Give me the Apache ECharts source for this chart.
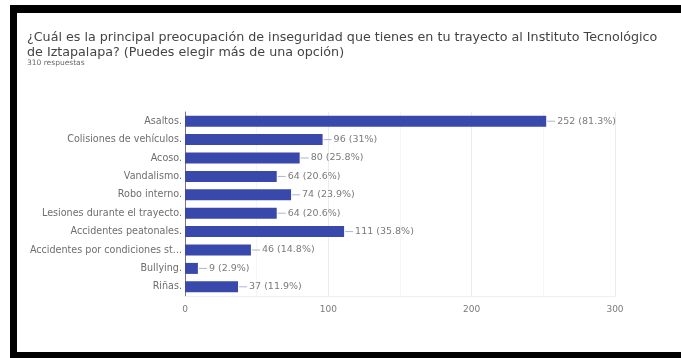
<!DOCTYPE html>
<html>
<head>
<meta charset="utf-8">
<script src="https://cdn.jsdelivr.net/npm/echarts@6/dist/echarts.min.js"></script>
<style>
  html, body { margin: 0; padding: 0; background: #fff; }
  #chart { width: 681px; height: 358px; }
</style>
</head>
<body>
<div id="chart"></div>
<script>
// Survey answers: main safety concern on the way to the institute
const totalResponses = 310;
const categories = [
  'Asaltos.',
  'Colisiones de vehículos.',
  'Acoso.',
  'Vandalismo.',
  'Robo interno.',
  'Lesiones durante el trayecto.',
  'Accidentes peatonales.',
  'Accidentes por condiciones st...',
  'Bullying.',
  'Riñas.'
];
const counts = [252, 96, 80, 64, 74, 64, 111, 46, 9, 37];
const axisTicks = [0, 100, 200, 300];

const FONT = '"DejaVu Sans", Roboto, sans-serif';

function pct(v) {
  const p = (v / totalResponses * 100).toFixed(1);
  return (p.endsWith('.0') ? p.slice(0, -2) : p) + '%';
}

const chart = echarts.init(document.getElementById('chart'), null, { renderer: 'canvas' });

chart.setOption({
  backgroundColor: '#ffffff',
  animation: false,
  textStyle: { fontFamily: FONT },
  title: [
    {
      text: '¿Cuál es la principal preocupación de inseguridad que tienes en tu trayecto al Instituto Tecnológico\nde Iztapalapa? (Puedes elegir más de una opción)',
      left: 27,
      top: 30,
      padding: 0,
      textStyle: {
        fontFamily: FONT,
        fontSize: 12.7,
        fontWeight: 'normal',
        color: '#444444',
        lineHeight: 15
      }
    },
    {
      text: totalResponses + ' respuestas',
      left: 27,
      top: 59,
      padding: 0,
      textStyle: {
        fontFamily: FONT,
        fontSize: 7.5,
        fontWeight: 'normal',
        color: '#6a6a6a',
        lineHeight: 8
      }
    }
  ],
  grid: { left: 185, right: 66, top: 112, bottom: 62, containLabel: false },
  xAxis: {
    type: 'value',
    min: axisTicks[0],
    max: axisTicks[axisTicks.length - 1],
    interval: 100,
    axisLine: { show: true, lineStyle: { color: '#eeeeee' } },
    axisTick: { show: false },
    axisLabel: { color: '#7a7a7a', fontSize: 9, margin: 9, fontFamily: FONT },
    splitLine: { show: true, lineStyle: { color: '#ececec' } },
    minorTick: { show: false, splitNumber: 2 },
    minorSplitLine: { show: true, lineStyle: { color: '#f5f5f5' } }
  },
  yAxis: {
    type: 'category',
    inverse: true,
    data: categories,
    axisLine: { show: true, lineStyle: { color: '#777777' } },
    axisTick: { show: false },
    axisLabel: { color: '#6e6e6e', fontSize: 9.6, margin: 3, fontFamily: FONT }
  },
  series: [{
    type: 'bar',
    data: counts,
    barWidth: 11,
    itemStyle: { color: '#3949ab' },
    label: {
      show: true,
      position: 'right',
      distance: 1,
      formatter: p => '{ln|}{t|' + p.value + ' (' + pct(p.value) + ')}',
      rich: {
        ln: { width: 8, height: 1, backgroundColor: '#aab4d6' },
        t: { color: '#7a7a7a', fontSize: 9.5, fontFamily: FONT, padding: [0, 0, 0, 2] }
      }
    }
  }],
  graphic: [
    { type: 'rect', shape: { x: 10, y: 5, width: 671, height: 8 }, style: { fill: '#000' } },
    { type: 'rect', shape: { x: 10, y: 5, width: 7, height: 353 }, style: { fill: '#000' } },
    { type: 'rect', shape: { x: 10, y: 352, width: 671, height: 6 }, style: { fill: '#000' } }
  ]
});
</script>
</body>
</html>
